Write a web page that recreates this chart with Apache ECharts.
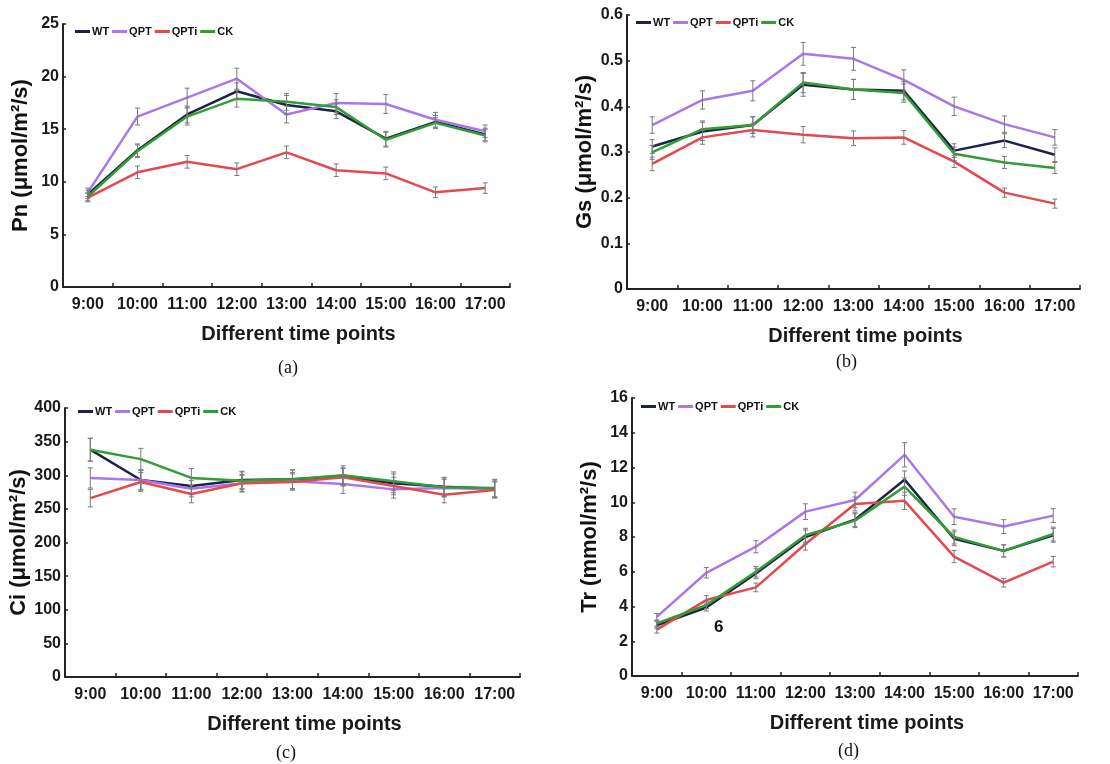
<!DOCTYPE html>
<html>
<head>
<meta charset="utf-8">
<script src="https://cdn.jsdelivr.net/npm/echarts@6/dist/echarts.min.js"></script>
<style>
html,body{margin:0;padding:0;background:#fff;}
#chart{width:1110px;height:764px;}
</style>
</head>
<body>
<div id="chart"></div>
<script>
const timePoints = ['9:00','10:00','11:00','12:00','13:00','14:00','15:00','16:00','17:00'];
const seriesNames = ['WT','QPT','QPTi','CK'];

// (a) Pn
const pnWT   = [8.8, 13.0, 16.4, 18.6, 17.3, 16.7, 14.1, 15.7, 14.5];
const pnQPT  = [9.0, 16.2, 18.0, 19.8, 16.4, 17.5, 17.4, 15.9, 14.8];
const pnQPTi = [8.5, 10.9, 11.9, 11.2, 12.8, 11.1, 10.8, 9.0, 9.4];
const pnCK   = [8.6, 12.9, 16.2, 17.9, 17.6, 17.1, 14.0, 15.6, 14.4];
const pnErrWT   = [0.4, 0.6, 0.8, 0.8, 0.9, 0.7, 0.7, 0.6, 0.6];
const pnErrQPT  = [0.4, 0.8, 0.9, 1.0, 0.8, 0.9, 0.9, 0.7, 0.6];
const pnErrQPTi = [0.4, 0.6, 0.6, 0.6, 0.6, 0.6, 0.6, 0.5, 0.5];
const pnErrCK   = [0.4, 0.6, 0.8, 0.8, 0.8, 0.7, 0.7, 0.5, 0.6];

// (b) Gs
const gsWT   = [0.312, 0.345, 0.359, 0.447, 0.437, 0.434, 0.303, 0.325, 0.294];
const gsQPT  = [0.359, 0.414, 0.434, 0.515, 0.504, 0.458, 0.400, 0.361, 0.332];
const gsQPTi = [0.274, 0.332, 0.348, 0.338, 0.330, 0.332, 0.279, 0.211, 0.187];
const gsCK   = [0.299, 0.350, 0.359, 0.452, 0.437, 0.429, 0.296, 0.277, 0.265];
const gsErrWT   = [0.015, 0.020, 0.018, 0.025, 0.022, 0.020, 0.015, 0.015, 0.015];
const gsErrQPT  = [0.018, 0.020, 0.022, 0.025, 0.025, 0.022, 0.020, 0.018, 0.017];
const gsErrQPTi = [0.015, 0.015, 0.015, 0.018, 0.016, 0.015, 0.013, 0.010, 0.010];
const gsErrCK   = [0.015, 0.018, 0.018, 0.022, 0.022, 0.020, 0.015, 0.013, 0.012];

// (c) Ci
const ciWT   = [338, 293, 284, 293, 294, 298, 288, 283, 280];
const ciQPT  = [296, 293, 280, 288, 291, 287, 279, 281, 279];
const ciQPTi = [266, 290, 272, 288, 290, 297, 284, 271, 278];
const ciCK   = [338, 324, 296, 292, 294, 300, 291, 282, 281];
const ciErrWT   = [17, 15, 13, 13, 14, 13, 14, 14, 13];
const ciErrQPT  = [15, 14, 12, 12, 13, 14, 13, 13, 12];
const ciErrQPTi = [13, 14, 13, 13, 12, 13, 13, 12, 12];
const ciErrCK   = [17, 16, 14, 13, 14, 14, 14, 14, 13];

// (d) Tr
const trWT   = [2.92, 3.94, 5.9, 8.0, 9.0, 11.3, 7.9, 7.2, 8.1];
const trQPT  = [3.4, 5.94, 7.44, 9.46, 10.13, 12.73, 9.17, 8.6, 9.23];
const trQPTi = [2.67, 4.37, 5.1, 7.6, 9.9, 10.08, 6.87, 5.37, 6.58];
const trCK   = [3.02, 4.08, 6.0, 8.1, 8.94, 10.9, 8.0, 7.2, 8.17];
const trErrWT   = [0.2, 0.2, 0.3, 0.4, 0.4, 0.5, 0.4, 0.35, 0.4];
const trErrQPT  = [0.2, 0.3, 0.35, 0.45, 0.45, 0.7, 0.45, 0.4, 0.4];
const trErrQPTi = [0.2, 0.25, 0.25, 0.35, 0.4, 0.5, 0.35, 0.25, 0.3];
const trErrCK   = [0.2, 0.2, 0.3, 0.4, 0.4, 0.5, 0.4, 0.35, 0.4];

const yNames = ['Pn (μmol/m²/s)', 'Gs (μmol/m²/s)', 'Ci (μmol/m²/s)', 'Tr (mmol/m²/s)'];
const yMax = [25, 0.6, 400, 16];
const yInterval = [5, 0.1, 50, 2];
const xName = 'Different time points';
const captions = ['(a)', '(b)', '(c)', '(d)'];

const panelValues = [
  [pnWT, pnQPT, pnQPTi, pnCK],
  [gsWT, gsQPT, gsQPTi, gsCK],
  [ciWT, ciQPT, ciQPTi, ciCK],
  [trWT, trQPT, trQPTi, trCK]
];
const panelErrors = [
  [pnErrWT, pnErrQPT, pnErrQPTi, pnErrCK],
  [gsErrWT, gsErrQPT, gsErrQPTi, gsErrCK],
  [ciErrWT, ciErrQPT, ciErrQPTi, ciErrCK],
  [trErrWT, trErrQPT, trErrQPTi, trErrCK]
];

const colors = ['#1e2149', '#a878ea', '#e5484e', '#2f9e33'];
const FONT = "'Liberation Sans', Arial, sans-serif";
const axisColor = '#2a2222';

const grids = [
  {left: 63, top: 24, right: 600, bottom: 477},
  {left: 627, top: 15, right: 30, bottom: 475},
  {left: 65, top: 408, right: 590, bottom: 87},
  {left: 632, top: 398, right: 32, bottom: 88}
];
const legendPos = [
  {left: 75, top: 26},
  {left: 636, top: 17},
  {left: 78, top: 406},
  {left: 641, top: 401}
];
const captionPos = [[290, 370], [848, 364], [288, 755], [850, 753]];

function errItem(params, api) {
  const x = api.value(0);
  const lo = api.coord([x, api.value(1)]);
  const hi = api.coord([x, api.value(2)]);
  const w = 2.5;
  const st = {stroke: '#7a7a7a', lineWidth: 1};
  return {type: 'group', children: [
    {type: 'line', shape: {x1: lo[0], y1: lo[1], x2: hi[0], y2: hi[1]}, style: st},
    {type: 'line', shape: {x1: lo[0]-w, y1: lo[1], x2: lo[0]+w, y2: lo[1]}, style: st},
    {type: 'line', shape: {x1: hi[0]-w, y1: hi[1], x2: hi[0]+w, y2: hi[1]}, style: st}
  ]};
}

const xAxes = [], yAxes = [], series = [], legends = [], graphics = [];
for (let p = 0; p < 4; p++) {
  xAxes.push({
    type: 'category', gridIndex: p, data: timePoints, boundaryGap: true,
    name: xName, nameLocation: 'middle', nameGap: 37,
    nameTextStyle: {fontFamily: FONT, fontWeight: 'bold', fontSize: 20, color: '#1a1a1a', padding: [0, 0, 0, 24]},
    axisLine: {show: true, lineStyle: {color: axisColor, width: 2}},
    axisTick: {show: true, inside: true, length: 4, lineStyle: {color: axisColor, width: 1.5}},
    axisLabel: {fontFamily: FONT, fontWeight: 'bold', fontSize: 16, color: '#1a1a1a', margin: 10, interval: 0},
    splitLine: {show: false}
  });
  yAxes.push({
    type: 'value', gridIndex: p, min: 0, max: yMax[p], interval: yInterval[p],
    name: yNames[p], nameLocation: 'middle', nameGap: 31, nameRotate: 90,
    nameTextStyle: {fontFamily: FONT, fontWeight: 'bold', fontSize: 22, color: '#111'},
    axisLine: {show: true, lineStyle: {color: axisColor, width: 2}},
    axisTick: {show: true, inside: true, length: 3, lineStyle: {color: axisColor, width: 1.5}},
    axisLabel: {fontFamily: FONT, fontWeight: 'bold', fontSize: 16, color: '#1a1a1a', margin: 4},
    splitLine: {show: false}
  });
  for (let s = 0; s < 4; s++) {
    series.push({
      type: 'line', name: seriesNames[s], xAxisIndex: p, yAxisIndex: p,
      data: panelValues[p][s], symbol: 'none', smooth: false,
      lineStyle: {color: colors[s], width: 2.5}, itemStyle: {color: colors[s]},
      z: 2 + s
    });
  }
  for (let s = 0; s < 4; s++) {
    const vals = panelValues[p][s], errs = panelErrors[p][s];
    series.push({
      type: 'custom', name: seriesNames[s] + ' err', xAxisIndex: p, yAxisIndex: p,
      renderItem: errItem, encode: {x: 0, y: [1, 2]},
      data: vals.map((v, i) => [i, v - errs[i], v + errs[i]]),
      z: 10, silent: true
    });
  }
  legends.push({
    data: seriesNames, left: legendPos[p].left, top: legendPos[p].top,
    orient: 'horizontal', icon: 'rect', itemWidth: 15, itemHeight: 3, itemGap: 3,
    padding: 0,
    textStyle: {fontFamily: FONT, fontWeight: 'bold', fontSize: 11, color: '#111', padding: [0, 0, 0, -3]}
  });
  graphics.push({
    type: 'text', left: captionPos[p][0] - 12, top: captionPos[p][1] - 11,
    style: {text: captions[p], font: "18px 'Liberation Serif', 'Times New Roman', serif", fill: '#111'}
  });
}
graphics.push({
  type: 'text', left: 714, top: 619,
  style: {text: '6', font: "bold 17px 'Liberation Sans', Arial, sans-serif", fill: '#111'}
});

const chart = echarts.init(document.getElementById('chart'), null, {renderer: 'canvas'});
chart.setOption({
  backgroundColor: '#fff',
  animation: false,
  grid: grids,
  xAxis: xAxes,
  yAxis: yAxes,
  legend: legends,
  series: series,
  graphic: graphics
});
</script>
</body>
</html>
